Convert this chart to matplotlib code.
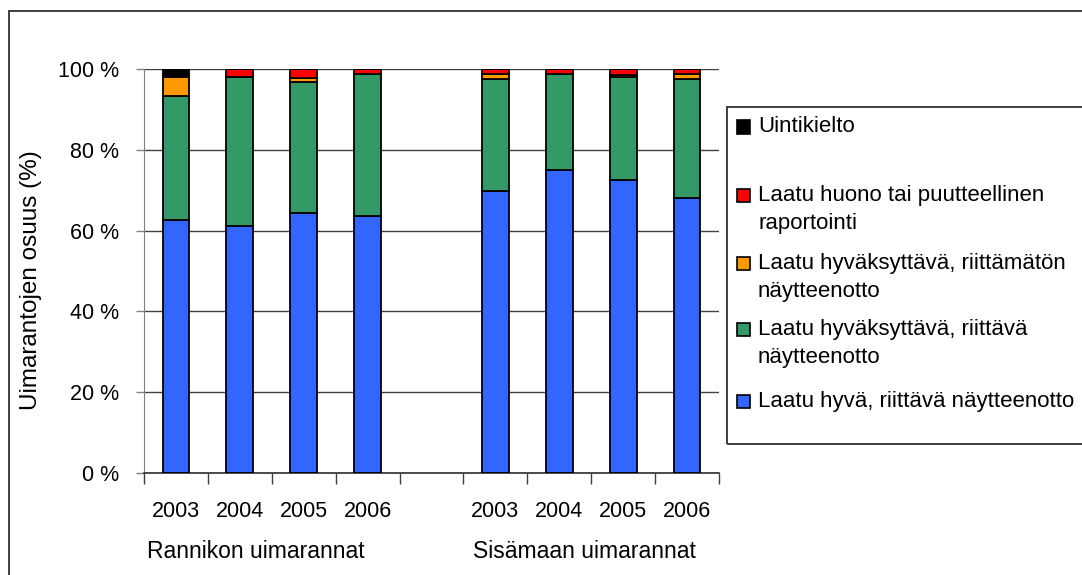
import matplotlib
matplotlib.use("Agg")
import matplotlib.pyplot as plt
from matplotlib.patches import Rectangle
from matplotlib.transforms import blended_transform_factory
import numpy as np

plt.rcParams['font.family'] = ['Liberation Sans', 'DejaVu Sans']

years = ["2003", "2004", "2005", "2006"]
groups = ["Rannikon uimarannat", "Sisämaan uimarannat"]
series_labels = [
    "Laatu hyvä, riittävä näytteenotto",
    "Laatu hyväksyttävä, riittävä\nnäytteenotto",
    "Laatu hyväksyttävä, riittämätön\nnäytteenotto",
    "Laatu huono tai puutteellinen\nraportointi",
    "Uintikielto",
]
colors = ["#3366FF", "#339966", "#FF9900", "#FF0000", "#000000"]

# values (%) : coastal 2003-2006, inland 2003-2006
good = [62.7, 61.2, 64.4, 63.6, 69.8, 75.1, 72.6, 68.0]
acceptable = [30.5, 36.7, 32.5, 35.2, 27.7, 23.7, 25.3, 29.5]
insufficient = [4.7, 0.0, 0.8, 0.0, 1.3, 0.0, 0.7, 1.3]
poor = [0.7, 2.1, 2.3, 1.2, 1.2, 1.2, 1.4, 1.2]
banned = [1.4, 0.0, 0.0, 0.0, 0.0, 0.0, 0.0, 0.0]
series = [good, acceptable, insufficient, poor, banned]

W, H = 1082, 575
fig = plt.figure(figsize=(W / 100, H / 100), dpi=100)

def px(x, y):
    return x / W, 1 - y / H

# outer chart border
fig.patches.append(Rectangle((9 / W, -0.1), 1.2, 1.1 - 11 / H, transform=fig.transFigure,
                             fill=False, edgecolor="#303030", lw=1.3, zorder=0))

left, right, top, bottom = 144, 719, 69, 473
ax = fig.add_axes([left / W, 1 - bottom / H, (right - left) / W, (bottom - top) / H])

positions = [0.5, 1.5, 2.5, 3.5, 5.5, 6.5, 7.5, 8.5]
base = np.zeros(len(positions))
for vals, col in zip(series, colors):
    v = np.array(vals)
    ax.bar(positions, v, bottom=base, width=0.42, color=col, edgecolor="black",
           linewidth=1.3, zorder=3)
    base += v

ax.set_xlim(0, 9)
ax.set_ylim(0, 100)
ax.set_yticks([0, 20, 40, 60, 80, 100])
ax.set_yticklabels([f"{t} %" for t in [0, 20, 40, 60, 80, 100]], fontsize=15.5)
ax.yaxis.grid(True, color="#404040", lw=1.0, zorder=1)
ax.tick_params(axis='y', length=6, width=1, color="#808080", pad=12)

ax.set_xticks(positions)
ax.set_xticklabels(years * 2, fontsize=15.5)
ax.set_xticks(np.arange(0, 10), minor=True)
ax.tick_params(axis='x', which='major', length=0, pad=20)
ax.tick_params(axis='x', which='minor', length=8, width=1, color="#404040")

for s in ["top", "right"]:
    ax.spines[s].set_visible(False)
ax.spines["left"].set_color("#808080")
ax.spines["bottom"].set_color("#303030")
ax.spines["bottom"].set_linewidth(1.2)

trans = blended_transform_factory(fig.transFigure, ax.transAxes)
ax.text(256 / W, -78 / 404, groups[0], transform=trans, ha="center", va="center", fontsize=16.5)
ax.text(584 / W, -78 / 404, groups[1], transform=trans, ha="center", va="center", fontsize=16.5)

fig.text(*px(31, 280), "Uimarantojen osuus (%)", rotation=90, ha="center", va="center",
         fontsize=17.5)

# legend (drawn in reverse order, top entry = last series)
fig.patches.append(Rectangle(px(727, 444), 1.0, (444 - 107) / H, transform=fig.transFigure,
                             fill=False, edgecolor="#303030", lw=1.3, zorder=5))
entry_y = [127, 195, 263, 329, 401]
line_gap = 28
for i, idx in enumerate(range(len(series) - 1, -1, -1)):
    y = entry_y[i]
    fig.patches.append(Rectangle(px(737, y + 6.5), 13 / W, 13 / H, transform=fig.transFigure,
                                 facecolor=colors[idx], edgecolor="black", lw=1.2, zorder=6))
    for j, line in enumerate(series_labels[idx].split("\n")):
        fig.text(*px(758, y + j * line_gap), line, ha="left", va="center", fontsize=16)

fig.savefig("out.png", dpi=100)
